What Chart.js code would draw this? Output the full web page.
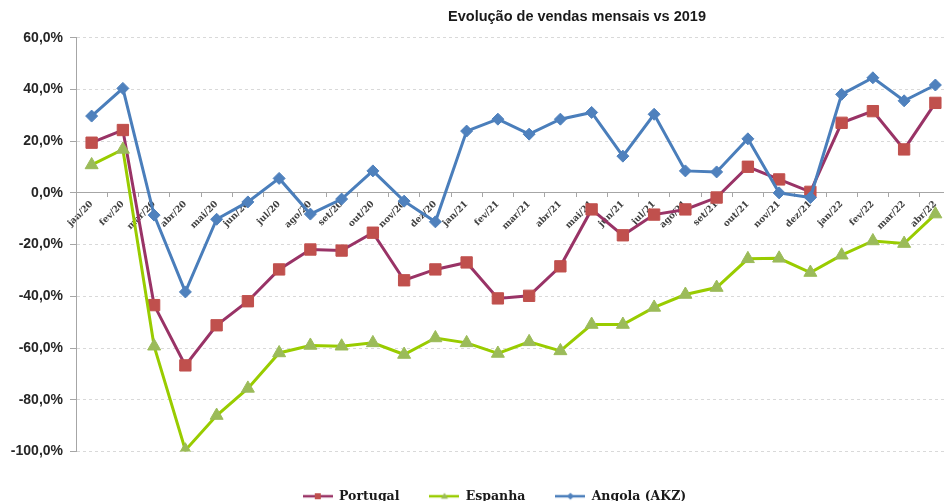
<!DOCTYPE html>
<html>
<head>
<meta charset="utf-8">
<script src="https://cdn.jsdelivr.net/npm/chart.js@4.4.1/dist/chart.umd.min.js"></script>
<style>
    html, body { margin: 0; padding: 0; background: #fff; overflow: hidden; }
    #wrap { width: 960px; height: 520px; }
</style>
</head>
<body>
<div id="wrap"><canvas id="chart" width="960" height="520"></canvas></div>
<script>
const title = 'Evolução de vendas mensais vs 2019';

const months = ['jan/20', 'fev/20', 'mar/20', 'abr/20', 'mai/20', 'jun/20', 'jul/20', 'ago/20', 'set/20', 'out/20', 'nov/20', 'dez/20',
    'jan/21', 'fev/21', 'mar/21', 'abr/21', 'mai/21', 'jun/21', 'jul/21', 'ago/21', 'set/21', 'out/21', 'nov/21', 'dez/21',
    'jan/22', 'fev/22', 'mar/22', 'abr/22'];

// % vs 2019
const portugal = [19.4, 24.3, -43.4, -66.7, -51.2, -41.9, -29.6, -21.9, -22.3, -15.4, -33.8, -29.6,
    -26.9, -40.8, -39.8, -28.4, -6.4, -16.4, -8.4, -6.4, -1.8, 10.1, 5.2, 0.4,
    27.1, 31.6, 16.8, 34.8];
const espanha = [10.8, 16.8, -59.3, -99.5, -86.1, -75.6, -61.9, -59.0, -59.3, -58.0, -62.5, -56.1,
    -58.0, -62.1, -57.6, -61.1, -50.9, -50.9, -44.3, -39.3, -36.6, -25.5, -25.3, -30.8,
    -24.1, -18.6, -19.6, -8.2];
const angola = [29.7, 40.4, -8.6, -38.3, -10.2, -3.5, 5.6, -8.2, -2.4, 8.5, -3.2, -11.2,
    23.9, 28.5, 22.7, 28.5, 31.1, 14.2, 30.4, 8.5, 8.1, 20.9, 0.0, -1.8,
    38.1, 44.5, 35.6, 41.7];

const yMin = -100, yMax = 60, yStep = 20;

// small line+marker swatch for the legend, excel style
function legendIcon(lineColor, markerColor, shape) {
    const c = document.createElement('canvas');
    c.width = 30; c.height = 10;
    const g = c.getContext('2d');
    g.strokeStyle = lineColor;
    g.lineWidth = 2.5;
    g.beginPath(); g.moveTo(0, 5); g.lineTo(30, 5); g.stroke();
    g.fillStyle = markerColor;
    g.beginPath();
    if (shape === 'rect') {
        g.rect(12, 2, 6, 6);
    } else if (shape === 'triangle') {
        g.moveTo(15, 1.5); g.lineTo(18.5, 7.5); g.lineTo(11.5, 7.5); g.closePath();
    } else {
        g.moveTo(15, 1.5); g.lineTo(18.5, 5); g.lineTo(15, 8.5); g.lineTo(11.5, 5); g.closePath();
    }
    g.fill();
    return c;
}

const icons = [
    legendIcon('#993366', '#C0504D', 'rect'),
    legendIcon('#99CC00', '#9BBB59', 'triangle'),
    legendIcon('#4A7EBB', '#4F81BD', 'diamond')
];

const titlePlugin = {
    id: 'chartTitle',
    afterLayout(chart) {
        // legend sits a bit right of the canvas centre in the original
        chart.legend.left += 17;
        chart.legend.right += 17;
    },
    afterDraw(chart) {
        const ctx = chart.ctx;
        ctx.save();
        ctx.font = 'bold 14.5px "Liberation Sans", Arial, sans-serif';
        ctx.fillStyle = '#1a1a1a';
        ctx.textAlign = 'center';
        ctx.textBaseline = 'middle';
        ctx.fillText(title, 577, 17);
        ctx.restore();
    }
};

new Chart(document.getElementById('chart'), {
    type: 'line',
    data: {
        labels: months,
        datasets: [{
            label: 'Portugal',
            data: portugal,
            borderColor: '#993366',
            borderWidth: 3,
            pointStyle: 'rect',
            pointRadius: 8,
            pointBackgroundColor: '#C0504D',
            pointBorderColor: '#C0504D',
            pointBorderWidth: 1,
            order: 3
        }, {
            label: 'Espanha',
            data: espanha,
            borderColor: '#99CC00',
            borderWidth: 3,
            pointStyle: 'triangle',
            pointRadius: 7.5,
            pointBackgroundColor: '#9BBB59',
            pointBorderColor: '#9BBB59',
            pointBorderWidth: 1,
            order: 2
        }, {
            label: 'Angola (AKZ)',
            data: angola,
            borderColor: '#4A7EBB',
            borderWidth: 3,
            pointStyle: 'rectRot',
            pointRadius: 6,
            pointBackgroundColor: '#4F81BD',
            pointBorderColor: '#4F81BD',
            pointBorderWidth: 1,
            order: 1
        }]
    },
    options: {
        responsive: false,
        animation: false,
        layout: { padding: { top: 37.7, left: 0, right: 5, bottom: 7.5 } },
        plugins: {
            tooltip: { enabled: false },
            legend: {
                position: 'bottom',
                title: { display: true, text: '', font: { size: 2, lineHeight: 1 }, padding: { top: 0, bottom: 6.5 } },
                labels: {
                    usePointStyle: true,
                    pointStyleWidth: 30,
                    padding: 30,
                    color: '#1a1a1a',
                    font: { family: '"DejaVu Serif", serif', size: 12.5, weight: 'bold' },
                    generateLabels(chart) {
                        const items = Chart.defaults.plugins.legend.labels.generateLabels(chart);
                        items.forEach(it => { it.pointStyle = icons[it.datasetIndex]; });
                        return items.sort((a, b) => a.datasetIndex - b.datasetIndex);
                    }
                }
            }
        },
        scales: {
            x: {
                position: { y: 0 },
                offset: true,
                ticks: {
                    autoSkip: false,
                    minRotation: 45,
                    maxRotation: 45,
                    padding: 2,
                    color: '#404040',
                    font: { family: '"DejaVu Serif", serif', size: 9, weight: 'bold' }
                },
                grid: { offset: true, drawOnChartArea: false, tickLength: 4, color: '#a6a6a6' },
                border: { color: '#a6a6a6', width: 1 }
            },
            y: {
                min: yMin,
                max: yMax,
                ticks: {
                    stepSize: yStep,
                    padding: 7,
                    color: '#262626',
                    font: { family: '"Liberation Sans", Arial, sans-serif', size: 14, weight: 'bold' },
                    callback: v => v.toFixed(1).replace('.', ',') + '%'
                },
                grid: {
                    color: ctx => (ctx.tick && ctx.tick.value === 0) ? 'rgba(0,0,0,0)' : '#d9d9d9',
                    tickColor: '#a6a6a6',
                    tickLength: 6
                },
                border: { color: '#a6a6a6', dash: [3, 3] },
                afterFit(scale) { scale.width = 76; }
            }
        }
    },
    plugins: [titlePlugin]
});
</script>
</body>
</html>
